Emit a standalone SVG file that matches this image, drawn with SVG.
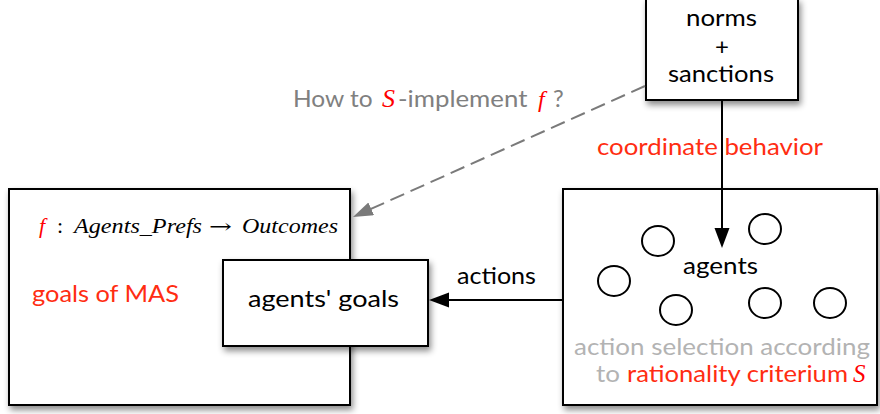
<svg xmlns="http://www.w3.org/2000/svg" width="880" height="414" viewBox="0 0 880 414">
  <defs>
    <filter id="shadow" x="-10%" y="-10%" width="130%" height="130%">
      <feDropShadow dx="2" dy="4" stdDeviation="3" flood-color="#000" flood-opacity="0.45"/>
    </filter>
    <marker id="arrowBlack" markerUnits="userSpaceOnUse" markerWidth="22" markerHeight="16" refX="10" refY="7.5" orient="auto">
      <path d="M0,0 L20,7.5 L0,15 z" fill="#000"/>
    </marker>
    <marker id="arrowGray" markerUnits="userSpaceOnUse" markerWidth="22" markerHeight="16" refX="10" refY="7" orient="auto">
      <path d="M0,0 L20,7 L0,14 z" fill="#7a7a7a"/>
    </marker>
  </defs>
  <style>
    .box { fill: #fff; stroke: #000; stroke-width: 2; filter: url(#shadow); }
    .agent { fill: none; stroke: #000; stroke-width: 2; }
    .lbl { font-family: Lato, "Open Sans", "Liberation Sans", sans-serif; font-size: 24px; }
    .black { fill: #000; }
    .red { fill: #ff2d12; }
    .gray { fill: #808080; }
    .lgray { fill: #b3b3b3; }
    .math { font-family: "Liberation Serif", "DejaVu Serif", serif; font-style: italic; }
    .mred { fill: #ff0000; }
  </style>
  <rect width="880" height="414" fill="#fff"/>

  <g id="mas-goals">
    <rect class="box" x="9" y="189" width="341" height="216"/>
    <text class="math black" x="39" y="233" font-size="22"><tspan class="mred" x="39">f</tspan><tspan font-style="normal" x="57">:</tspan><tspan x="74" textLength="128" lengthAdjust="spacingAndGlyphs">Agents_Prefs</tspan><tspan font-family="DejaVu Serif" font-style="normal" font-size="20" x="209" textLength="23" lengthAdjust="spacingAndGlyphs">→</tspan><tspan x="242" textLength="96" lengthAdjust="spacingAndGlyphs">Outcomes</tspan></text>
    <text class="lbl red" x="32" y="302" textLength="147" lengthAdjust="spacingAndGlyphs">goals of MAS</text>
  </g>

  <g id="agents-goals">
    <rect class="box" x="223" y="260" width="205" height="86"/>
    <text class="lbl black" x="248" y="307" textLength="151" lengthAdjust="spacingAndGlyphs">agents' goals</text>
  </g>

  <g id="norms">
    <rect class="box" x="646" y="-1" width="152" height="101"/>
    <text class="lbl black" x="686" y="26" textLength="71" lengthAdjust="spacingAndGlyphs">norms</text>
    <text class="lbl black" x="722" y="55" text-anchor="middle" font-size="20">+</text>
    <text class="lbl black" x="668" y="82" textLength="106" lengthAdjust="spacingAndGlyphs">sanctions</text>
  </g>

  <g id="agents">
    <rect class="box" x="563" y="189" width="314" height="216"/>
    <ellipse class="agent" cx="658" cy="241" rx="16" ry="15"/>
    <ellipse class="agent" cx="765" cy="229" rx="16" ry="15"/>
    <ellipse class="agent" cx="614" cy="281" rx="16" ry="15"/>
    <ellipse class="agent" cx="676" cy="310" rx="16" ry="15"/>
    <ellipse class="agent" cx="765" cy="303" rx="16" ry="15"/>
    <ellipse class="agent" cx="830" cy="303" rx="16" ry="15"/>
    <text class="lbl black" x="683" y="274" textLength="75" lengthAdjust="spacingAndGlyphs">agents</text>
    <text class="lbl lgray" x="574" y="355" textLength="296" lengthAdjust="spacingAndGlyphs">action selection according</text>
    <text class="lbl lgray" x="596" y="382" textLength="24" lengthAdjust="spacingAndGlyphs">to</text>
    <text class="lbl red" x="627" y="382" textLength="221" lengthAdjust="spacingAndGlyphs">rationality criterium</text>
    <text class="math mred" x="853" y="382" font-size="25">S</text>
  </g>

  <g id="connectors">
    <line x1="645" y1="86" x2="362.1" y2="212.9" stroke="#7a7a7a" stroke-width="2" stroke-dasharray="15 7" marker-end="url(#arrowGray)"/>
    <line x1="722" y1="100" x2="722" y2="238" stroke="#000" stroke-width="2" marker-end="url(#arrowBlack)"/>
    <line x1="563" y1="300" x2="439" y2="300" stroke="#000" stroke-width="2" marker-end="url(#arrowBlack)"/>
    <text class="lbl gray" x="293" y="107"><tspan textLength="86" lengthAdjust="spacingAndGlyphs">How to </tspan><tspan class="math mred" font-size="26" x="382">S</tspan><tspan x="398" textLength="136" lengthAdjust="spacingAndGlyphs">-implement </tspan><tspan class="math mred" font-size="24" x="538">f</tspan><tspan x="553">?</tspan></text>
    <text class="lbl red" x="597" y="155" textLength="226" lengthAdjust="spacingAndGlyphs">coordinate behavior</text>
    <text class="lbl black" x="457" y="284" textLength="79" lengthAdjust="spacingAndGlyphs">actions</text>
  </g>
</svg>
